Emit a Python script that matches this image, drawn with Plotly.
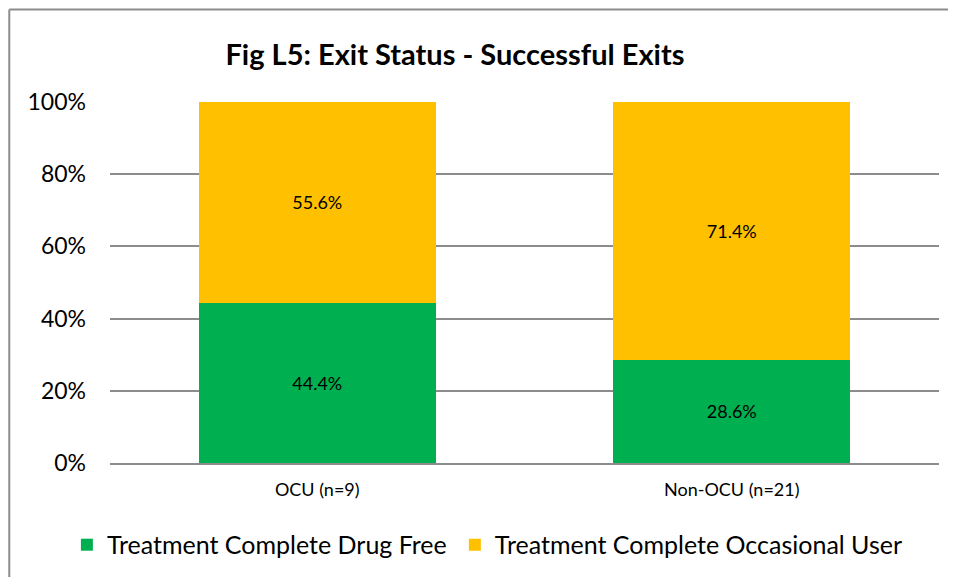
import plotly.graph_objects as go

categories = ["OCU (n=9)", "Non-OCU (n=21)"]
drug_free = [44.4, 28.6]
occasional = [55.6, 71.4]
y_ticks = [0, 20, 40, 60, 80, 100]

FONT = "Lato, 'Open Sans', sans-serif"

fig = go.Figure()
fig.add_trace(go.Bar(x=categories, y=drug_free, name="Treatment Complete Drug Free",
                     marker=dict(color="#00B050", line=dict(width=0)),
                     text=[f"{v:.1f}%" for v in drug_free], textposition="inside",
                     insidetextanchor="middle", textfont=dict(color="black", size=18, family=FONT),
                     legend="legend"))
fig.add_trace(go.Bar(x=categories, y=occasional, name="Treatment Complete Occasional User",
                     marker=dict(color="#FFC000", line=dict(width=0)),
                     text=[f"{v:.1f}%" for v in occasional], textposition="inside",
                     insidetextanchor="middle", textfont=dict(color="black", size=18, family=FONT),
                     legend="legend2"))

# chart border: only top and left edges are visible in the source
fig.add_shape(type="line", xref="paper", yref="paper", x0=-0.1215, x1=1.05, y0=1.2565, y1=1.2565,
              line=dict(color="#8c8c8c", width=2))
fig.add_shape(type="line", xref="paper", yref="paper", x0=-0.1215, x1=-0.1215, y0=-0.4, y1=1.2565,
              line=dict(color="#8c8c8c", width=2))

legend_style = dict(orientation="h", yanchor="middle", y=-0.227, xanchor="left",
                    font=dict(size=25), itemwidth=30, bgcolor="rgba(0,0,0,0)")

fig.update_layout(
    barmode="stack", bargap=0.428,
    width=948, height=569,
    margin=dict(l=102, r=17, t=94, b=114, autoexpand=False),
    paper_bgcolor="white", plot_bgcolor="white",
    font=dict(family=FONT, color="black"),
    title=dict(text="<b>Fig L5: Exit Status - Successful Exits</b>", x=0.4715, xanchor="center",
               y=0.917, yanchor="middle", font=dict(size=29, family=FONT)),
    yaxis=dict(range=[0, 100], tickvals=y_ticks, ticktext=[f"{t}%" for t in y_ticks],
               showgrid=True, gridcolor="#8c8c8c", gridwidth=1.5, zeroline=False,
               tickfont=dict(size=23), ticks="", ticklabelstandoff=23, fixedrange=True),
    xaxis=dict(showline=True, linecolor="#8c8c8c", linewidth=2, tickfont=dict(size=18),
               ticks="", ticklabelstandoff=9),
    legend=dict(legend_style, x=-0.052),
    legend2=dict(legend_style, x=0.416),
    showlegend=True,
)

fig.write_html("out.html")
